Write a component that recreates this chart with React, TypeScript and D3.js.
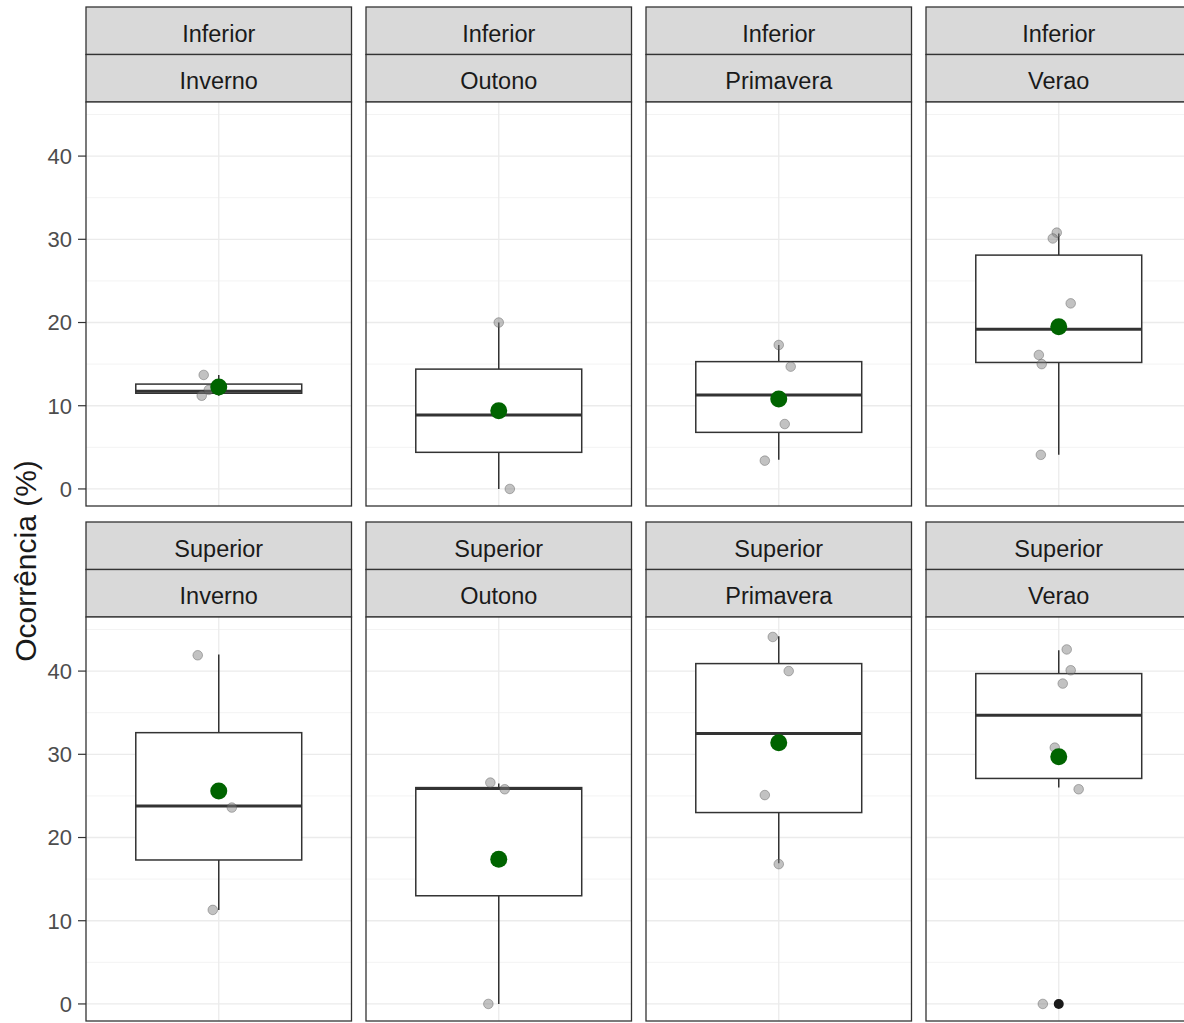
import React from "react";
import * as d3 from "d3";

// ---- data ----
const rowLevels = ["Inferior", "Superior"];
const colLevels = ["Inverno", "Outono", "Primavera", "Verao"];
const yTicks = [0, 10, 20, 30, 40];
const yMinor = [5, 15, 25, 35, 45];

// box statistics per panel (row-major: Inferior x 4 seasons, Superior x 4 seasons)
const whiskerLow = [11.2, 0, 3.5, 4.1, 11.3, 0, 16.9, 26.0];
const q1 = [11.5, 4.4, 6.8, 15.2, 17.3, 13.0, 23.0, 27.1];
const median = [11.75, 8.9, 11.3, 19.2, 23.8, 25.9, 32.5, 34.7];
const q3 = [12.6, 14.4, 15.3, 28.1, 32.6, 26.0, 40.9, 39.7];
const whiskerHigh = [13.7, 20.0, 17.3, 30.7, 42.0, 26.5, 44.2, 42.5];
const means = [12.25, 9.4, 10.8, 19.5, 25.6, 17.4, 31.4, 29.7];
const outliers: number[][] = [[], [], [], [], [], [], [], [0]];

// jittered observations: values and horizontal jitter (x-axis units)
const obsValues: number[][] = [
  [13.7, 11.2, 11.9],
  [20.0, 0.0],
  [17.3, 14.7, 7.8, 3.4],
  [30.8, 30.1, 22.3, 16.1, 15.0, 4.1],
  [41.9, 23.6, 11.3],
  [26.6, 25.8, 0.0],
  [44.1, 40.0, 25.1, 16.8],
  [42.6, 40.1, 38.5, 30.8, 25.8, 0.0],
];
const obsJitter: number[][] = [
  [-0.068, -0.077, -0.045],
  [0.0, 0.05],
  [0.0, 0.054, 0.027, -0.063],
  [-0.009, -0.027, 0.054, -0.09, -0.077, -0.081],
  [-0.095, 0.059, -0.027],
  [-0.038, 0.027, -0.047],
  [-0.027, 0.045, -0.063, 0.0],
  [0.036, 0.054, 0.018, -0.018, 0.09, -0.072],
];

// ---- layout ----
const W = 1184;
const H = 1023;
const panelLeft = 86;
const panelW = 265.5;
const panelStep = 280;
const stripH = 47.5;
const rowTop = [7, 522];
const panelH = 404;
const yDomain: [number, number] = [-2.05, 46.5];

const FONT = "'Liberation Sans', Arial, Helvetica, sans-serif";
const DARK = "#333333";

export default function App() {
  const x = d3.scaleLinear().domain([0.4, 1.6]).range([0, panelW]);
  const boxHalf = x(1.375) - x(1);

  return (
    <svg
      width={W}
      height={H}
      style={{ position: "absolute", left: 0, top: 0, background: "#fff" }}
      fontFamily={FONT}
    >
      <rect width={W} height={H} fill="#fff" />
      {rowLevels.map((rowName, ri) => {
        const top = rowTop[ri];
        const pTop = top + 2 * stripH;
        const y = d3.scaleLinear().domain(yDomain).range([pTop + panelH, pTop]);
        return (
          <g key={rowName}>
            {/* y axis */}
            {yTicks.map((t) => (
              <g key={t}>
                <line x1={panelLeft - 8} x2={panelLeft} y1={y(t)} y2={y(t)} stroke={DARK} strokeWidth={1.2} />
                <text x={panelLeft - 14} y={y(t)} dy="0.36em" textAnchor="end" fontSize={22} fill="#4D4D4D">
                  {t}
                </text>
              </g>
            ))}
            {colLevels.map((colName, ci) => {
              const idx = ri * 4 + ci;
              const left = panelLeft + ci * panelStep;
              const cx = left + x(1);
              return (
                <g key={colName}>
                  {/* strips */}
                  <rect x={left} y={top} width={panelW} height={stripH} fill="#D9D9D9" stroke={DARK} strokeWidth={1.3} />
                  <rect x={left} y={top + stripH} width={panelW} height={stripH} fill="#D9D9D9" stroke={DARK} strokeWidth={1.3} />
                  <text x={left + panelW / 2} y={top + stripH / 2 + 2.5} dy="0.36em" textAnchor="middle" fontSize={23.5} fill="#1A1A1A">
                    {rowName}
                  </text>
                  <text x={left + panelW / 2} y={top + stripH * 1.5 + 2.3} dy="0.36em" textAnchor="middle" fontSize={23.5} fill="#1A1A1A">
                    {colName}
                  </text>
                  {/* panel background + grid */}
                  <rect x={left} y={pTop} width={panelW} height={panelH} fill="#fff" />
                  {yMinor.map((t) => (
                    <line key={"m" + t} x1={left} x2={left + panelW} y1={y(t)} y2={y(t)} stroke="#F3F3F3" strokeWidth={1} />
                  ))}
                  {yTicks.map((t) => (
                    <line key={"M" + t} x1={left} x2={left + panelW} y1={y(t)} y2={y(t)} stroke="#EBEBEB" strokeWidth={1.3} />
                  ))}
                  <line x1={cx} x2={cx} y1={pTop} y2={pTop + panelH} stroke="#EBEBEB" strokeWidth={1.3} />
                  {/* whiskers */}
                  <line x1={cx} x2={cx} y1={y(q3[idx])} y2={y(whiskerHigh[idx])} stroke={DARK} strokeWidth={1.5} />
                  <line x1={cx} x2={cx} y1={y(q1[idx])} y2={y(whiskerLow[idx])} stroke={DARK} strokeWidth={1.5} />
                  {/* box */}
                  <rect
                    x={cx - boxHalf}
                    y={y(q3[idx])}
                    width={boxHalf * 2}
                    height={y(q1[idx]) - y(q3[idx])}
                    fill="#fff"
                    stroke={DARK}
                    strokeWidth={1.5}
                  />
                  <line x1={cx - boxHalf} x2={cx + boxHalf} y1={y(median[idx])} y2={y(median[idx])} stroke={DARK} strokeWidth={3} />
                  {outliers[idx].map((v, k) => (
                    <circle key={"o" + k} cx={cx} cy={y(v)} r={5} fill="#1A1A1A" />
                  ))}
                  {/* jittered points */}
                  {obsValues[idx].map((v, k) => (
                    <circle
                      key={"p" + k}
                      cx={left + x(1 + obsJitter[idx][k])}
                      cy={y(v)}
                      r={4.8}
                      fill="rgba(128,128,128,0.48)"
                      stroke="rgba(80,80,80,0.4)"
                      strokeWidth={1}
                    />
                  ))}
                  {/* mean */}
                  <circle cx={cx} cy={y(means[idx])} r={8.5} fill="#006400" />
                  {/* panel border */}
                  <rect x={left} y={pTop} width={panelW} height={panelH} fill="none" stroke={DARK} strokeWidth={1.3} />
                </g>
              );
            })}
          </g>
        );
      })}
      <text
        transform={`translate(36, 561) rotate(-90)`}
        textAnchor="middle"
        fontSize={30}
        fill="#1A1A1A"
      >
        Ocorrência (%)
      </text>
    </svg>
  );
}
